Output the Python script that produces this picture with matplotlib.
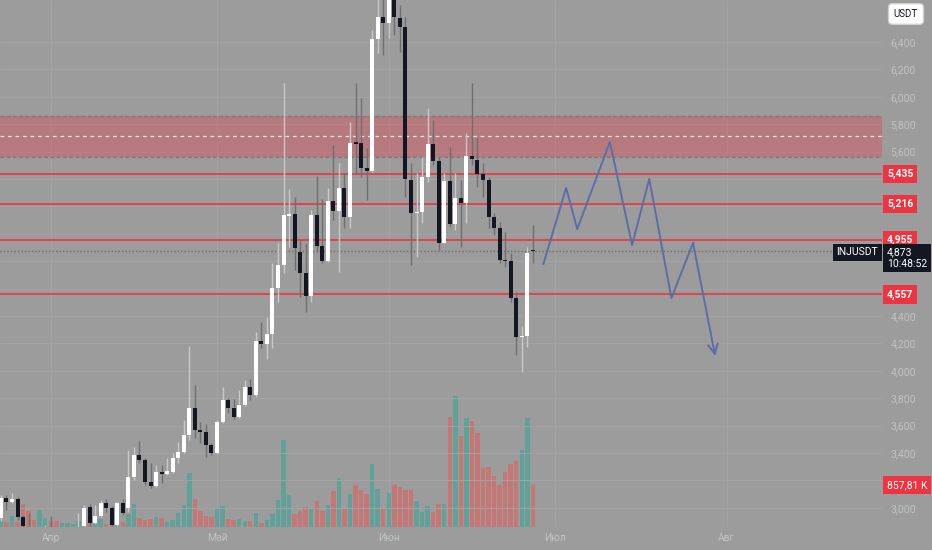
import matplotlib
matplotlib.use('Agg')
import matplotlib.pyplot as plt
import numpy as np
import pandas as pd
from matplotlib.ticker import FixedLocator, FuncFormatter

plt.rcParams['font.family'] = ['Roboto', 'DejaVu Sans']

# дневные свечи INJUSDT, начиная с 23 марта
start_date = '2024-03-23'
opens = [2.926, 3.072, 3.042, 3.064, 2.933, 2.831, 2.794, 2.765, 2.809, 2.831,
         2.787, 2.758, 2.787, 2.809, 2.823, 2.867, 3.006, 2.889, 2.940, 3.035,
         2.999, 2.874, 3.035, 2.999, 3.225, 3.385, 3.349, 3.188, 3.159, 3.261,
         3.247, 3.261, 3.364, 3.407, 3.532, 3.729, 3.568, 3.553, 3.458, 3.400,
         3.626, 3.787, 3.729, 3.663, 3.750, 3.882, 3.823, 4.218, 4.196, 4.269,
         4.604, 4.772, 5.130, 5.145, 4.867, 4.714, 4.546, 5.137, 4.911, 4.801,
         5.239, 5.166, 5.334, 5.123, 5.670, 5.663, 5.480, 5.458, 6.422, 6.583,
         6.539, 6.740, 6.575, 6.510, 5.393, 5.152, 5.159, 5.415, 5.656, 5.531,
         4.933, 5.385, 5.071, 5.261, 5.225, 5.568, 5.539, 5.437, 5.393, 5.123,
         5.042, 4.809, 4.801, 4.531, 4.247, 4.254, 4.880]
closes = [3.072, 3.042, 3.064, 2.933, 2.867, 2.794, 2.765, 2.809, 2.831, 2.787,
          2.758, 2.787, 2.809, 2.823, 2.845, 2.999, 2.889, 2.940, 3.035, 2.999,
          2.874, 3.035, 2.962, 3.225, 3.385, 3.349, 3.188, 3.159, 3.261, 3.247,
          3.269, 3.364, 3.407, 3.532, 3.729, 3.568, 3.553, 3.458, 3.400, 3.626,
          3.787, 3.729, 3.663, 3.750, 3.882, 3.823, 4.218, 4.196, 4.269, 4.604,
          4.772, 5.137, 5.145, 4.896, 4.714, 4.546, 5.137, 4.911, 4.801, 5.239,
          5.166, 5.334, 5.123, 5.663, 5.656, 5.480, 5.458, 6.422, 6.583, 6.539,
          6.743, 6.583, 6.510, 5.400, 5.152, 5.159, 5.415, 5.656, 5.531, 4.933,
          5.385, 5.071, 5.261, 5.225, 5.568, 5.546, 5.437, 5.393, 5.123, 5.042,
          4.809, 4.801, 4.531, 4.247, 4.254, 4.860, 4.873]
highs = [3.093, 3.093, 3.108, 3.079, 2.947, 2.962, 2.838, 2.845, 2.874, 2.940,
         2.823, 2.831, 2.838, 2.860, 2.962, 3.021, 3.028, 3.021, 3.057, 3.064,
         3.013, 3.042, 3.064, 3.422, 3.444, 3.488, 3.364, 3.327, 3.312, 3.312,
         3.364, 3.400, 3.480, 3.641, 4.181, 3.896, 3.626, 3.612, 3.473, 3.641,
         3.882, 3.801, 3.794, 3.860, 3.933, 3.940, 4.283, 4.356, 4.393, 4.787,
         4.933, 6.101, 5.327, 5.269, 4.955, 4.933, 5.174, 5.422, 5.254, 5.334,
         5.648, 5.517, 5.444, 5.816, 6.101, 5.991, 5.626, 6.488, 6.720, 6.720,
         6.780, 6.780, 6.670, 6.583, 5.517, 5.444, 5.561, 5.918, 5.831, 5.561,
         5.444, 5.634, 5.444, 5.393, 5.736, 6.101, 5.699, 5.517, 5.415, 5.152,
         5.086, 5.013, 4.860, 4.575, 4.327, 4.904, 5.064]
lows = [2.904, 2.984, 3.035, 2.911, 2.840, 2.729, 2.707, 2.721, 2.765, 2.750,
        2.707, 2.721, 2.750, 2.765, 2.794, 2.845, 2.867, 2.882, 2.933, 2.969,
        2.867, 2.867, 2.947, 2.969, 3.203, 3.327, 3.166, 3.145, 3.152, 3.181,
        3.239, 3.254, 3.327, 3.400, 3.495, 3.510, 3.473, 3.371, 3.385, 3.393,
        3.619, 3.692, 3.648, 3.656, 3.743, 3.787, 3.809, 4.167, 4.086, 4.167,
        4.502, 4.714, 4.904, 4.736, 4.539, 4.429, 4.502, 4.867, 4.787, 4.794,
        5.101, 4.721, 5.042, 5.042, 5.444, 5.415, 5.247, 5.451, 6.320, 6.305,
        6.429, 6.451, 6.327, 5.269, 4.772, 4.831, 5.079, 5.378, 5.502, 4.882,
        4.933, 5.050, 5.028, 4.904, 5.079, 5.502, 5.342, 5.269, 5.042, 4.991,
        4.787, 4.758, 4.502, 4.115, 3.991, 4.174, 4.787]
# объём, тыс.
volumes = [143, 102, 225, 102, 470, 327, 143, 347, 184, 123,
           123, 82, 82, 61, 123, 102, 61, 143, 163, 61,
           61, 123, 102, 265, 470, 184, 143, 163, 204, 184,
           102, 143, 286, 449, 1103, 572, 327, 225, 204, 388,
           429, 163, 143, 163, 123, 123, 286, 82, 143, 265,
           551, 1777, 653, 265, 327, 408, 368, 531, 327, 449,
           735, 1001, 368, 674, 858, 756, 674, 1287, 776, 388,
           694, 858, 817, 756, 756, 531, 306, 429, 306, 470,
           470, 2246, 2675, 1858, 2226, 2165, 1919, 1205, 1225, 1041,
           858, 1123, 1287, 1348, 1572, 2226, 857.81]

levels = [5.435, 5.216, 4.955, 4.557]
level_labels = ['5,435', '5,216', '4,955', '4,557']
zone_top, zone_mid, zone_bottom = 5.860, 5.714, 5.561
last_price = 4.873
last_volume = 857.81

# нарисованный прогноз (дни от начала, цена)
path_days = [97.9, 102.0, 104.0, 109.9, 113.9, 117.0, 121.0, 124.9, 128.9]
path_prices = [4.78, 5.334, 5.035, 5.67, 4.918, 5.40, 4.531, 4.933, 4.108]

months = ['Апр', 'Май', 'Июн', 'Июл', 'Авг']

bg = '#9c9c9c'
txt = '#c3c3c3'
bull_c, bear_c = '#ffffff', '#131722'
red = '#ee3440'

dates = pd.date_range(start_date, periods=160)
month_pos = [i for i, d in enumerate(dates) if d.day == 1]

fig = plt.figure(figsize=(9.32, 5.5), dpi=100, facecolor=bg)
axv = fig.add_axes([0, 23 / 550, 882 / 932, 527 / 550], facecolor=bg)
ax = axv.twinx()

x = np.arange(len(opens))
o = np.array(opens)
c = np.array(closes)
up = c >= o

# объём
vol_colors = np.where(up, '#26a69a', '#ef5350')
axv.bar(x, volumes, width=0.8, color=vol_colors, alpha=0.5, linewidth=0)
axv.set_ylim(0, 527 * 20.42)
axv.set_xlim(-0.16, 159.0)
axv.set_yticks([])
axv.xaxis.set_major_locator(FixedLocator(month_pos))
axv.set_xticklabels(months)
axv.tick_params(axis='x', length=0, pad=4, labelsize=7.5, labelcolor=txt)
axv.grid(axis='x', color='#a5a5a5', lw=0.6)
axv.set_axisbelow(True)
for s in axv.spines.values():
    s.set_visible(False)

# цена
ax.set_ylim(6.7066 - 527 / 137, 6.7066)
ax.set_xlim(-0.16, 159.0)
grid_levels = np.arange(3.0, 6.41, 0.2)
for g in grid_levels:
    ax.axhline(g, color='#a5a5a5', lw=0.6, zorder=0)
hidden = {'3,200', '4,600', '4,800', '5,000', '5,200', '5,400'}


def fmt(v, pos):
    s = f'{v:.3f}'.replace('.', ',')
    return '' if s in hidden else s


ax.yaxis.set_major_locator(FixedLocator(grid_levels))
ax.yaxis.set_major_formatter(FuncFormatter(fmt))
ax.tick_params(axis='y', length=0, pad=6, labelsize=7.5, labelcolor=txt)
for s in ax.spines.values():
    s.set_visible(False)

ax.axhspan(zone_bottom, zone_top, color=red, alpha=0.33, lw=0, zorder=1)
ax.axhline(zone_top, color='#7a7a7a', ls=(0, (3, 2)), lw=0.9, zorder=1)
ax.axhline(zone_bottom, color='#7a7a7a', ls=(0, (3, 2)), lw=0.9, zorder=1)
ax.axhline(zone_mid, color='#f0e4e4', ls=(0, (3, 3)), lw=0.9, zorder=1)
for lv in levels:
    ax.axhline(lv, color=red, lw=1.2, zorder=1.5)
ax.axhline(last_price, color='#6c6c6c', ls=(0, (1, 1.5)), lw=1, zorder=1.5)

# свечи
wick_colors = np.where(up, '#c9c9c9', '#6f6f6f')
ax.vlines(x, lows, highs, colors=wick_colors, lw=1, zorder=2)
body_low = np.minimum(o, c)
body_h = np.maximum(np.abs(c - o), 0.008)
ax.bar(x, body_h, bottom=body_low, width=0.72,
       color=np.where(up, bull_c, bear_c), linewidth=0, zorder=3)

# прогноз
ax.plot(path_days[:-1], path_prices[:-1], color='#5b6ea8', lw=1.4, zorder=4)
ax.annotate('', xy=(path_days[-1], path_prices[-1]),
            xytext=(path_days[-2], path_prices[-2]),
            arrowprops=dict(arrowstyle='->,head_width=0.35,head_length=0.7',
                            color='#5b6ea8', lw=1.4, shrinkA=0, shrinkB=0),
            zorder=4)

# подписи на шкале
ytr = ax.get_yaxis_transform()
for lv, lab in zip(levels, level_labels):
    ax.text(1.0 + 5 / 882, lv, lab, transform=ytr, ha='left', va='center',
            color='white', fontsize=7.5, fontweight='bold', clip_on=False, zorder=10,
            bbox=dict(boxstyle='square,pad=0.38', fc=red, ec='none'))
ax.text(1.0 - 4 / 882, last_price - 0.007, 'INJUSDT', transform=ytr, ha='right',
        va='center', color='white', fontsize=7.5, zorder=10,
        bbox=dict(boxstyle='square,pad=0.35', fc=bear_c, ec='none'))
ax.text(1.0 + 5 / 882, last_price - 0.05, '4,873\n10:48:52', transform=ytr,
        ha='left', va='center', color='white', fontsize=7.5, linespacing=1.15,
        clip_on=False, zorder=10,
        bbox=dict(boxstyle='square,pad=0.35', fc=bear_c, ec='none'))
axv.text(1.0 + 5 / 882, last_volume, '857,81 K', transform=axv.get_yaxis_transform(),
         ha='left', va='center', color='white', fontsize=7.5, clip_on=False, zorder=10,
         bbox=dict(boxstyle='square,pad=0.38', fc=red, ec='none'))

fig.text(906 / 932, 1 - 14 / 550, 'USDT', ha='center', va='center', fontsize=7,
         color='#131722',
         bbox=dict(boxstyle='round,pad=0.55,rounding_size=0.4', fc='white', ec='#d0d0d0'))

fig.savefig('out.png', dpi=100, facecolor=bg)
